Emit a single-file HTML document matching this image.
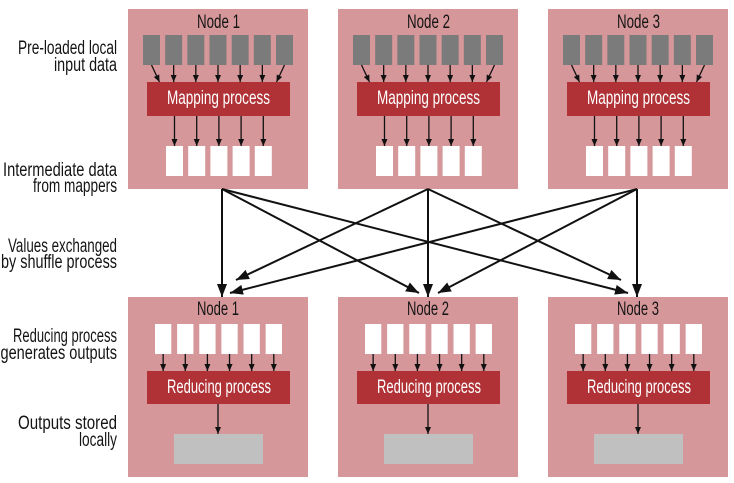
<!DOCTYPE html>
<html>
<head>
<meta charset="utf-8">
<style>
html,body{margin:0;padding:0;background:#fff;}
svg{display:block;}
text{font-family:"Liberation Sans","DejaVu Sans",sans-serif;font-size:19px;}
.lbl{fill:#141414;}
.wt{fill:#ffffff;}
</style>
</head>
<body>
<svg width="734" height="483" viewBox="0 0 734 483" xmlns="http://www.w3.org/2000/svg">
<defs>
  <marker id="sa" markerUnits="userSpaceOnUse" markerWidth="8" markerHeight="7" refX="7" refY="3" orient="auto">
    <path d="M0,0 L7,3 L0,6 z" fill="#111"/>
  </marker>
  <marker id="ba" markerUnits="userSpaceOnUse" markerWidth="14" markerHeight="11" refX="13" refY="5" orient="auto">
    <path d="M0,0 L13,5 L0,10 z" fill="#111"/>
  </marker>
</defs>

<!-- Left labels -->
<text class="lbl" x="18" y="54" textLength="99" lengthAdjust="spacingAndGlyphs">Pre-loaded local</text>
<text class="lbl" x="54" y="71" textLength="63" lengthAdjust="spacingAndGlyphs">input data</text>
<text class="lbl" x="3" y="176" textLength="114" lengthAdjust="spacingAndGlyphs">Intermediate data</text>
<text class="lbl" x="33" y="192" textLength="84" lengthAdjust="spacingAndGlyphs">from mappers</text>
<text class="lbl" x="8" y="252" textLength="109" lengthAdjust="spacingAndGlyphs">Values exchanged</text>
<text class="lbl" x="1" y="268" textLength="116" lengthAdjust="spacingAndGlyphs">by shuffle process</text>
<text class="lbl" x="13" y="342" textLength="104" lengthAdjust="spacingAndGlyphs">Reducing process</text>
<text class="lbl" x="0.5" y="359" textLength="116.5" lengthAdjust="spacingAndGlyphs">generates outputs</text>
<text class="lbl" x="18" y="429" textLength="99" lengthAdjust="spacingAndGlyphs">Outputs stored</text>
<text class="lbl" x="79" y="446" textLength="38" lengthAdjust="spacingAndGlyphs">locally</text>

<!-- TOP NODES -->
<g transform="translate(128,0)">
  <rect x="0" y="9" width="180" height="180" fill="#d6979a"/>
  <g fill="#7b7b7b">
    <rect x="15" y="35" width="17" height="30"/>
    <rect x="37.17" y="35" width="17" height="30"/>
    <rect x="59.33" y="35" width="17" height="30"/>
    <rect x="81.5" y="35" width="17" height="30"/>
    <rect x="103.67" y="35" width="17" height="30"/>
    <rect x="125.83" y="35" width="17" height="30"/>
    <rect x="148" y="35" width="17" height="30"/>
  </g>
  <g stroke="#111" stroke-width="1.3" marker-end="url(#sa)">
    <line x1="23.5" y1="65" x2="31.5" y2="82"/>
    <line x1="45.67" y1="65" x2="45.67" y2="82"/>
    <line x1="67.83" y1="65" x2="67.83" y2="82"/>
    <line x1="90" y1="65" x2="90" y2="82"/>
    <line x1="112.17" y1="65" x2="112.17" y2="82"/>
    <line x1="134.33" y1="65" x2="134.33" y2="82"/>
    <line x1="156.5" y1="65" x2="148.5" y2="82"/>
  </g>
  <rect x="19" y="82" width="143" height="34" fill="#b03236"/>
  <text class="wt" x="39" y="104" textLength="103" lengthAdjust="spacingAndGlyphs">Mapping process</text>
  <g stroke="#111" stroke-width="1.3" marker-end="url(#sa)">
    <line x1="46.5" y1="116" x2="46.5" y2="146"/>
    <line x1="68.7" y1="116" x2="68.7" y2="146"/>
    <line x1="90.9" y1="116" x2="90.9" y2="146"/>
    <line x1="113.1" y1="116" x2="113.1" y2="146"/>
    <line x1="135.3" y1="116" x2="135.3" y2="146"/>
  </g>
  <g fill="#ffffff">
    <rect x="38" y="146" width="17" height="30"/>
    <rect x="60.2" y="146" width="17" height="30"/>
    <rect x="82.4" y="146" width="17" height="30"/>
    <rect x="104.6" y="146" width="17" height="30"/>
    <rect x="126.8" y="146" width="17" height="30"/>
  </g>
  <text class="lbl" x="69" y="28" textLength="43" lengthAdjust="spacingAndGlyphs">Node 1</text>
</g>

<g transform="translate(338,0)">
  <rect x="0" y="9" width="180" height="180" fill="#d6979a"/>
  <g fill="#7b7b7b">
    <rect x="15" y="35" width="17" height="30"/>
    <rect x="37.17" y="35" width="17" height="30"/>
    <rect x="59.33" y="35" width="17" height="30"/>
    <rect x="81.5" y="35" width="17" height="30"/>
    <rect x="103.67" y="35" width="17" height="30"/>
    <rect x="125.83" y="35" width="17" height="30"/>
    <rect x="148" y="35" width="17" height="30"/>
  </g>
  <g stroke="#111" stroke-width="1.3" marker-end="url(#sa)">
    <line x1="23.5" y1="65" x2="31.5" y2="82"/>
    <line x1="45.67" y1="65" x2="45.67" y2="82"/>
    <line x1="67.83" y1="65" x2="67.83" y2="82"/>
    <line x1="90" y1="65" x2="90" y2="82"/>
    <line x1="112.17" y1="65" x2="112.17" y2="82"/>
    <line x1="134.33" y1="65" x2="134.33" y2="82"/>
    <line x1="156.5" y1="65" x2="148.5" y2="82"/>
  </g>
  <rect x="19" y="82" width="143" height="34" fill="#b03236"/>
  <text class="wt" x="39" y="104" textLength="103" lengthAdjust="spacingAndGlyphs">Mapping process</text>
  <g stroke="#111" stroke-width="1.3" marker-end="url(#sa)">
    <line x1="46.5" y1="116" x2="46.5" y2="146"/>
    <line x1="68.7" y1="116" x2="68.7" y2="146"/>
    <line x1="90.9" y1="116" x2="90.9" y2="146"/>
    <line x1="113.1" y1="116" x2="113.1" y2="146"/>
    <line x1="135.3" y1="116" x2="135.3" y2="146"/>
  </g>
  <g fill="#ffffff">
    <rect x="38" y="146" width="17" height="30"/>
    <rect x="60.2" y="146" width="17" height="30"/>
    <rect x="82.4" y="146" width="17" height="30"/>
    <rect x="104.6" y="146" width="17" height="30"/>
    <rect x="126.8" y="146" width="17" height="30"/>
  </g>
  <text class="lbl" x="69" y="28" textLength="43" lengthAdjust="spacingAndGlyphs">Node 2</text>
</g>

<g transform="translate(548,0)">
  <rect x="0" y="9" width="180" height="180" fill="#d6979a"/>
  <g fill="#7b7b7b">
    <rect x="15" y="35" width="17" height="30"/>
    <rect x="37.17" y="35" width="17" height="30"/>
    <rect x="59.33" y="35" width="17" height="30"/>
    <rect x="81.5" y="35" width="17" height="30"/>
    <rect x="103.67" y="35" width="17" height="30"/>
    <rect x="125.83" y="35" width="17" height="30"/>
    <rect x="148" y="35" width="17" height="30"/>
  </g>
  <g stroke="#111" stroke-width="1.3" marker-end="url(#sa)">
    <line x1="23.5" y1="65" x2="31.5" y2="82"/>
    <line x1="45.67" y1="65" x2="45.67" y2="82"/>
    <line x1="67.83" y1="65" x2="67.83" y2="82"/>
    <line x1="90" y1="65" x2="90" y2="82"/>
    <line x1="112.17" y1="65" x2="112.17" y2="82"/>
    <line x1="134.33" y1="65" x2="134.33" y2="82"/>
    <line x1="156.5" y1="65" x2="148.5" y2="82"/>
  </g>
  <rect x="19" y="82" width="143" height="34" fill="#b03236"/>
  <text class="wt" x="39" y="104" textLength="103" lengthAdjust="spacingAndGlyphs">Mapping process</text>
  <g stroke="#111" stroke-width="1.3" marker-end="url(#sa)">
    <line x1="46.5" y1="116" x2="46.5" y2="146"/>
    <line x1="68.7" y1="116" x2="68.7" y2="146"/>
    <line x1="90.9" y1="116" x2="90.9" y2="146"/>
    <line x1="113.1" y1="116" x2="113.1" y2="146"/>
    <line x1="135.3" y1="116" x2="135.3" y2="146"/>
  </g>
  <g fill="#ffffff">
    <rect x="38" y="146" width="17" height="30"/>
    <rect x="60.2" y="146" width="17" height="30"/>
    <rect x="82.4" y="146" width="17" height="30"/>
    <rect x="104.6" y="146" width="17" height="30"/>
    <rect x="126.8" y="146" width="17" height="30"/>
  </g>
  <text class="lbl" x="69" y="28" textLength="43" lengthAdjust="spacingAndGlyphs">Node 3</text>
</g>

<!-- BOTTOM NODES -->
<g transform="translate(128,0)">
  <rect x="0" y="297" width="180" height="180" fill="#d6979a"/>
  <text class="lbl" x="69" y="315" textLength="42" lengthAdjust="spacingAndGlyphs">Node 1</text>
  <g fill="#ffffff">
    <rect x="27" y="324" width="16.3" height="30"/>
    <rect x="49.13" y="324" width="16.3" height="30"/>
    <rect x="71.26" y="324" width="16.3" height="30"/>
    <rect x="93.39" y="324" width="16.3" height="30"/>
    <rect x="115.52" y="324" width="16.3" height="30"/>
    <rect x="137.65" y="324" width="16.3" height="30"/>
  </g>
  <g stroke="#111" stroke-width="1.3" marker-end="url(#sa)">
    <line x1="35.15" y1="354" x2="35.15" y2="371"/>
    <line x1="57.28" y1="354" x2="57.28" y2="371"/>
    <line x1="79.41" y1="354" x2="79.41" y2="371"/>
    <line x1="101.54" y1="354" x2="101.54" y2="371"/>
    <line x1="123.67" y1="354" x2="123.67" y2="371"/>
    <line x1="145.8" y1="354" x2="145.8" y2="371"/>
  </g>
  <rect x="19" y="371" width="143" height="33" fill="#b03236"/>
  <text class="wt" x="39" y="393" textLength="104" lengthAdjust="spacingAndGlyphs">Reducing process</text>
  <line x1="90" y1="404" x2="90" y2="434" stroke="#111" stroke-width="1.3" marker-end="url(#sa)"/>
  <rect x="46" y="434" width="89" height="30" fill="#c0c0c0"/>
</g>

<g transform="translate(338,0)">
  <rect x="0" y="297" width="180" height="180" fill="#d6979a"/>
  <text class="lbl" x="69" y="315" textLength="42" lengthAdjust="spacingAndGlyphs">Node 2</text>
  <g fill="#ffffff">
    <rect x="27" y="324" width="16.3" height="30"/>
    <rect x="49.13" y="324" width="16.3" height="30"/>
    <rect x="71.26" y="324" width="16.3" height="30"/>
    <rect x="93.39" y="324" width="16.3" height="30"/>
    <rect x="115.52" y="324" width="16.3" height="30"/>
    <rect x="137.65" y="324" width="16.3" height="30"/>
  </g>
  <g stroke="#111" stroke-width="1.3" marker-end="url(#sa)">
    <line x1="35.15" y1="354" x2="35.15" y2="371"/>
    <line x1="57.28" y1="354" x2="57.28" y2="371"/>
    <line x1="79.41" y1="354" x2="79.41" y2="371"/>
    <line x1="101.54" y1="354" x2="101.54" y2="371"/>
    <line x1="123.67" y1="354" x2="123.67" y2="371"/>
    <line x1="145.8" y1="354" x2="145.8" y2="371"/>
  </g>
  <rect x="19" y="371" width="143" height="33" fill="#b03236"/>
  <text class="wt" x="39" y="393" textLength="104" lengthAdjust="spacingAndGlyphs">Reducing process</text>
  <line x1="90" y1="404" x2="90" y2="434" stroke="#111" stroke-width="1.3" marker-end="url(#sa)"/>
  <rect x="46" y="434" width="89" height="30" fill="#c0c0c0"/>
</g>

<g transform="translate(548,0)">
  <rect x="0" y="297" width="180" height="180" fill="#d6979a"/>
  <text class="lbl" x="69" y="315" textLength="42" lengthAdjust="spacingAndGlyphs">Node 3</text>
  <g fill="#ffffff">
    <rect x="27" y="324" width="16.3" height="30"/>
    <rect x="49.13" y="324" width="16.3" height="30"/>
    <rect x="71.26" y="324" width="16.3" height="30"/>
    <rect x="93.39" y="324" width="16.3" height="30"/>
    <rect x="115.52" y="324" width="16.3" height="30"/>
    <rect x="137.65" y="324" width="16.3" height="30"/>
  </g>
  <g stroke="#111" stroke-width="1.3" marker-end="url(#sa)">
    <line x1="35.15" y1="354" x2="35.15" y2="371"/>
    <line x1="57.28" y1="354" x2="57.28" y2="371"/>
    <line x1="79.41" y1="354" x2="79.41" y2="371"/>
    <line x1="101.54" y1="354" x2="101.54" y2="371"/>
    <line x1="123.67" y1="354" x2="123.67" y2="371"/>
    <line x1="145.8" y1="354" x2="145.8" y2="371"/>
  </g>
  <rect x="19" y="371" width="143" height="33" fill="#b03236"/>
  <text class="wt" x="39" y="393" textLength="104" lengthAdjust="spacingAndGlyphs">Reducing process</text>
  <line x1="90" y1="404" x2="90" y2="434" stroke="#111" stroke-width="1.3" marker-end="url(#sa)"/>
  <rect x="46" y="434" width="89" height="30" fill="#c0c0c0"/>
</g>

<!-- SHUFFLE ARROWS -->
<g stroke="#111" stroke-width="2" fill="none" marker-end="url(#ba)">
  <line x1="222" y1="189" x2="222" y2="297"/>
  <line x1="222" y1="189" x2="419" y2="293"/>
  <line x1="222" y1="189" x2="628" y2="293"/>
  <line x1="428" y1="189" x2="236" y2="280"/>
  <line x1="428" y1="189" x2="428" y2="297"/>
  <line x1="428" y1="189" x2="621" y2="280"/>
  <line x1="637" y1="189" x2="230" y2="293"/>
  <line x1="637" y1="189" x2="438" y2="293"/>
  <line x1="637" y1="189" x2="637" y2="297"/>
</g>
</svg>
</body>
</html>
